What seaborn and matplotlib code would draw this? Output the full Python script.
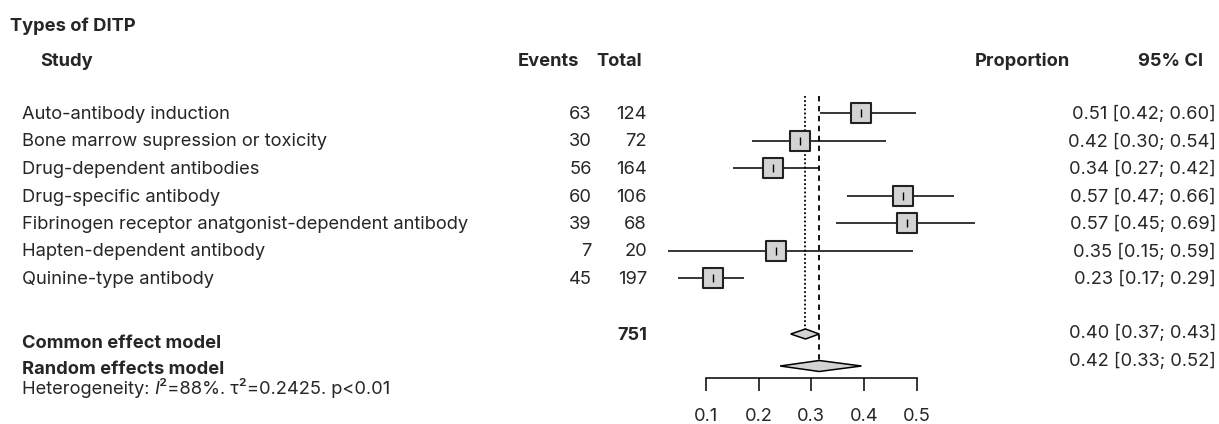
import numpy as np
import matplotlib
matplotlib.use("Agg")
import matplotlib.pyplot as plt
import matplotlib.transforms as mtransforms
import seaborn as sns

# ---------------- data ----------------
studies = [
    "Auto-antibody induction",
    "Bone marrow supression or toxicity",
    "Drug-dependent antibodies",
    "Drug-specific antibody",
    "Fibrinogen receptor anatgonist-dependent antibody",
    "Hapten-dependent antibody",
    "Quinine-type antibody",
]
events = [63, 30, 56, 60, 39, 7, 45]
totals = [124, 72, 164, 106, 68, 20, 197]
prop = [0.51, 0.42, 0.34, 0.57, 0.57, 0.35, 0.23]
prop_lo = [0.42, 0.30, 0.27, 0.47, 0.45, 0.15, 0.17]
prop_hi = [0.60, 0.54, 0.42, 0.66, 0.69, 0.59, 0.29]

# positions of the marks
est_x = [0.394, 0.279, 0.228, 0.474, 0.481, 0.233, 0.113]
lo_x = [0.317, 0.187, 0.152, 0.368, 0.347, 0.028, 0.047]
hi_x = [0.498, 0.442, 0.315, 0.570, 0.610, 0.493, 0.173]

model_names = ["Common effect model", "Random effects model"]
model_prop = [0.40, 0.42]
model_lo = [0.37, 0.33]
model_hi = [0.43, 0.52]
model_est_x = [0.289, 0.315]
model_lo_x = [0.261, 0.241]
model_hi_x = [0.315, 0.395]
total_n = 751

axis_ticks = [0.1, 0.2, 0.3, 0.4, 0.5]

# ---------------- figure ----------------
sns.set_style("white")
plt.rcParams["font.family"] = ["Inter", "DejaVu Sans"]
FS = 13.2

W, H = 1219, 424
fig = plt.figure(figsize=(W / 100, H / 100), dpi=100)

# forest panel placed in pixel terms
left_px, right_px, top_px, bot_px = 640, 990, 90, 378
ax = fig.add_axes([left_px / W, 1 - bot_px / H, (right_px - left_px) / W, (bot_px - top_px) / H])
ax.set_xlim(0.1 + (left_px - 705.7) / 528, 0.1 + (right_px - 705.7) / 528)
row_h = 27.5
ax.set_ylim((bot_px - 113) / row_h, (top_px - 113) / row_h)

rows = np.arange(len(studies))
model_rows = [(334 - 113) / row_h, (366 - 113) / row_h]
diamond_h = [5.0 / row_h, 5.5 / row_h]

# confidence intervals
ax.hlines(rows, lo_x, hi_x, color="black", lw=1.1, zorder=2)
# squares
sns.scatterplot(x=est_x, y=rows, marker="s", s=200, color="#D3D3D3",
                edgecolor="#222222", linewidth=1.5, ax=ax, zorder=3, legend=False)
ax.scatter(est_x, rows, marker="|", s=26, color="black", linewidths=1.0, zorder=4)

# reference lines
line_top = (96 - 113) / row_h
ax.vlines(model_est_x[0], line_top, model_rows[0] - diamond_h[0], color="black",
          lw=1.3, linestyles=(0, (1, 1.3)), zorder=1)
ax.vlines(model_est_x[1], line_top, model_rows[1] - diamond_h[1], color="black",
          lw=1.3, linestyles=(0, (3, 2.5)), zorder=1)

# diamonds
for i in range(2):
    y = model_rows[i]
    ax.fill([model_lo_x[i], model_est_x[i], model_hi_x[i], model_est_x[i]],
            [y, y - diamond_h[i], y, y + diamond_h[i]],
            facecolor="#D3D3D3", edgecolor="black", lw=1.1, zorder=3)

# axis
for side in ["top", "right", "left"]:
    ax.spines[side].set_visible(False)
ax.spines["bottom"].set_bounds(axis_ticks[0], axis_ticks[-1])
ax.spines["bottom"].set_color("black")
ax.spines["bottom"].set_linewidth(1.1)
ax.set_xticks(axis_ticks)
ax.set_xticklabels([f"{t:.1f}" for t in axis_ticks])
ax.set_yticks([])
ax.tick_params(axis="x", bottom=True, direction="out", length=9.4, width=1.1,
               color="black", pad=12, labelsize=FS)

# ---------------- text columns ----------------
tr = mtransforms.blended_transform_factory(fig.transFigure, ax.transData)


def ypx(px):
    return (px - 113) / row_h


def xf(px):
    return px / W


ax.text(xf(10), ypx(26), "Types of DITP", transform=tr, fontsize=FS, fontweight="bold",
        ha="left", va="center")
hdr_y = ypx(61)
ax.text(xf(40), hdr_y, "Study", transform=tr, fontsize=FS, fontweight="bold", ha="left", va="center")
ax.text(xf(579), hdr_y, "Events", transform=tr, fontsize=FS, fontweight="bold", ha="right", va="center")
ax.text(xf(642), hdr_y, "Total", transform=tr, fontsize=FS, fontweight="bold", ha="right", va="center")
ax.text(xf(1070), hdr_y, "Proportion", transform=tr, fontsize=FS, fontweight="bold", ha="right", va="center")
ax.text(xf(1203), hdr_y, "95% CI", transform=tr, fontsize=FS, fontweight="bold", ha="right", va="center")

for i, name in enumerate(studies):
    y = rows[i] + 1.5 / row_h
    ax.text(xf(22), y, name, transform=tr, fontsize=FS, ha="left", va="center")
    ax.text(xf(592), y, str(events[i]), transform=tr, fontsize=FS, ha="right", va="center")
    ax.text(xf(647), y, str(totals[i]), transform=tr, fontsize=FS, ha="right", va="center")
    ax.text(xf(1216), y, f"{prop[i]:.2f} [{prop_lo[i]:.2f}; {prop_hi[i]:.2f}]",
            transform=tr, fontsize=FS, ha="right", va="center")

ax.text(xf(22), ypx(343), model_names[0], transform=tr, fontsize=FS, fontweight="bold", ha="left", va="center")
ax.text(xf(22), ypx(369), model_names[1], transform=tr, fontsize=FS, fontweight="bold", ha="left", va="center")
ax.text(xf(647), ypx(336), str(total_n), transform=tr, fontsize=FS, fontweight="bold", ha="right", va="center")
ax.text(xf(1216), ypx(333), f"{model_prop[0]:.2f} [{model_lo[0]:.2f}; {model_hi[0]:.2f}]",
        transform=tr, fontsize=FS, ha="right", va="center")
ax.text(xf(1216), ypx(361), f"{model_prop[1]:.2f} [{model_lo[1]:.2f}; {model_hi[1]:.2f}]",
        transform=tr, fontsize=FS, ha="right", va="center")

t1 = ax.text(xf(22), ypx(390), "Heterogeneity: ", transform=tr, fontsize=FS, ha="left", va="center")
t2 = ax.annotate("I", xy=(1, 0), xycoords=t1, fontsize=FS, fontstyle="italic", ha="left", va="bottom")
ax.annotate("²=88%. τ²=0.2425. p<0.01", xy=(1, 0), xycoords=t2, fontsize=FS, ha="left", va="bottom")

fig.savefig("out.png", dpi=100)
